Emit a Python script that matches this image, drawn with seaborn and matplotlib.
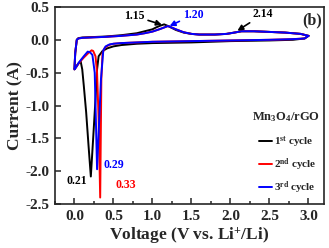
import numpy as np
import pandas as pd
import matplotlib
matplotlib.use("Agg")
import matplotlib.pyplot as plt
import seaborn as sns
from matplotlib.ticker import MultipleLocator

# ---------------- data ----------------
# 1st cycle: cathodic sweep 3.0 -> 0.0 V, then anodic sweep 0.0 -> 3.0 V
v1 = [3.0, 2.95, 2.8, 2.5, 2.0, 1.5, 1.0, 0.8, 0.6, 0.5, 0.42, 0.36, 0.31, 0.29, 0.27,
      0.24, 0.21, 0.18, 0.15, 0.12, 0.10, 0.08, 0.05, 0.02, 0.0,
      0.01, 0.03, 0.05, 0.1, 0.2, 0.4, 0.6, 0.8, 0.9, 1.0, 1.05, 1.1, 1.15, 1.2, 1.3,
      1.4, 1.5, 1.6, 1.8, 1.95, 2.05, 2.14, 2.3, 2.5, 2.7, 2.9, 3.0]
i1 = [0.06, 0.02, 0.0, -0.01, -0.02, -0.04, -0.05, -0.06, -0.08, -0.1, -0.13, -0.17, -0.25, -0.45, -0.9,
      -1.5, -2.08, -1.6, -1.1, -0.7, -0.45, -0.33, -0.36, -0.41, -0.45,
      -0.2, 0.0, 0.025, 0.035, 0.04, 0.05, 0.07, 0.1, 0.13, 0.16, 0.19, 0.215, 0.235, 0.21, 0.15,
      0.11, 0.09, 0.08, 0.08, 0.09, 0.11, 0.13, 0.13, 0.12, 0.11, 0.09, 0.06]

# 2nd cycle
v2 = [3.0, 2.95, 2.8, 2.5, 2.0, 1.5, 1.0, 0.8, 0.6, 0.5, 0.44, 0.39, 0.36, 0.345, 0.33,
      0.31, 0.29, 0.27, 0.24, 0.22, 0.18, 0.12, 0.06, 0.02, 0.0,
      0.01, 0.03, 0.05, 0.1, 0.2, 0.4, 0.6, 0.8, 0.9, 1.0, 1.1, 1.2, 1.3,
      1.4, 1.5, 1.6, 1.8, 1.95, 2.05, 2.14, 2.3, 2.5, 2.7, 2.9, 3.0]
i2 = [0.06, 0.02, 0.01, 0.0, -0.01, -0.02, -0.03, -0.04, -0.05, -0.06, -0.08, -0.12, -0.2, -0.6, -2.4,
      -1.2, -0.5, -0.25, -0.17, -0.16, -0.2, -0.27, -0.35, -0.42, -0.45,
      -0.2, 0.0, 0.02, 0.03, 0.035, 0.045, 0.06, 0.08, 0.1, 0.125, 0.165, 0.21, 0.16,
      0.115, 0.09, 0.08, 0.08, 0.09, 0.11, 0.13, 0.13, 0.12, 0.11, 0.09, 0.06]

# 3rd cycle
v3 = [3.0, 2.95, 2.8, 2.5, 2.0, 1.5, 1.0, 0.8, 0.6, 0.5, 0.45, 0.40, 0.37, 0.34, 0.29,
      0.26, 0.23, 0.2, 0.17, 0.12, 0.06, 0.02, 0.0,
      0.01, 0.03, 0.05, 0.1, 0.2, 0.4, 0.6, 0.8, 0.9, 1.0, 1.1, 1.2, 1.3,
      1.4, 1.5, 1.6, 1.8, 1.95, 2.05, 2.14, 2.3, 2.5, 2.7, 2.9, 3.0]
i3 = [0.06, 0.02, 0.01, 0.0, -0.01, -0.02, -0.03, -0.04, -0.05, -0.06, -0.07, -0.1, -0.16, -0.6, -1.97,
      -0.5, -0.23, -0.19, -0.18, -0.25, -0.34, -0.42, -0.45,
      -0.2, 0.0, 0.02, 0.03, 0.035, 0.045, 0.06, 0.08, 0.1, 0.125, 0.165, 0.21, 0.16,
      0.115, 0.09, 0.08, 0.08, 0.09, 0.11, 0.13, 0.13, 0.12, 0.11, 0.09, 0.06]

cycle_labels = ["1$^{st}$ cycle", "2$^{nd}$ cycle", "3$^{rd}$ cycle"]
cycle_colors = ["black", "red", "blue"]

# ---------------- style ----------------
sns.set_style("ticks")
plt.rcParams['font.family'] = ['Liberation Serif', 'DejaVu Serif']
plt.rcParams['font.weight'] = 'bold'
plt.rcParams['axes.unicode_minus'] = False
plt.rcParams['mathtext.fontset'] = 'custom'
plt.rcParams['mathtext.rm'] = 'Liberation Serif:bold'
plt.rcParams['mathtext.it'] = 'Liberation Serif:bold'
plt.rcParams['mathtext.bf'] = 'Liberation Serif:bold'

fig = plt.figure(figsize=(3.29, 2.48), dpi=100)
ax = fig.add_axes([0.167, 0.177, 0.818, 0.795])

for v, i, lab, col in zip([v1, v2, v3], [i1, i2, i3], cycle_labels, cycle_colors):
    df = pd.DataFrame({'V': v, 'I': i})
    sns.lineplot(data=df, x='V', y='I', sort=False, estimator=None, color=col,
                 lw=1.4, label=lab, ax=ax)

ax.set_xlim(-0.25, 3.2)
ax.set_ylim(-2.5, 0.5)
ax.xaxis.set_major_locator(MultipleLocator(0.5))
ax.xaxis.set_minor_locator(MultipleLocator(0.25))
ax.yaxis.set_major_locator(MultipleLocator(0.5))
ax.tick_params(which='both', direction='in', width=1.1, labelsize=11, pad=4)
ax.tick_params(which='major', length=4)
ax.tick_params(which='minor', length=2)
for sp in ax.spines.values():
    sp.set_linewidth(1.2)

ax.set_xlabel("Voltage (V vs. Li$^{+}$/Li)", fontsize=12.5, fontweight='bold', labelpad=2)
ax.set_ylabel("Current (A)", fontsize=12.5, fontweight='bold', labelpad=1)

# peak annotations
akw = dict(arrowstyle='-|>', lw=1.2, mutation_scale=8, shrinkA=0, shrinkB=0)
ax.annotate("1.15", xy=(1.12, 0.23), xytext=(0.77, 0.36), fontsize=8.5, fontweight='bold',
            color='black', ha='center', va='center', arrowprops=dict(color='black', **akw))
ax.annotate("1.20", xy=(1.22, 0.21), xytext=(1.52, 0.38), fontsize=8.5, fontweight='bold',
            color='blue', ha='center', va='center', arrowprops=dict(color='blue', **akw))
ax.annotate("2.14", xy=(2.09, 0.14), xytext=(2.42, 0.39), fontsize=8.5, fontweight='bold',
            color='black', ha='center', va='center', arrowprops=dict(color='black', **akw))
ax.text(0.03, -2.15, "0.21", fontsize=8.5, fontweight='bold', color='black', ha='center', va='center')
ax.text(0.50, -1.91, "0.29", fontsize=8.5, fontweight='bold', color='blue', ha='center', va='center')
ax.text(0.66, -2.21, "0.33", fontsize=8.5, fontweight='bold', color='red', ha='center', va='center')

ax.text(3.05, 0.29, "(b)", fontsize=11.5, fontweight='bold', ha='center', va='center')
ax.text(3.15, -1.17, "Mn$_3$O$_4$/rGO", fontsize=9, fontweight='bold', ha='right', va='center')

ax.legend(loc='lower right', frameon=False, fontsize=8, handlelength=1.1, handletextpad=0.2,
          labelspacing=0.6, borderaxespad=0.3)

fig.savefig("out.png", dpi=100)
